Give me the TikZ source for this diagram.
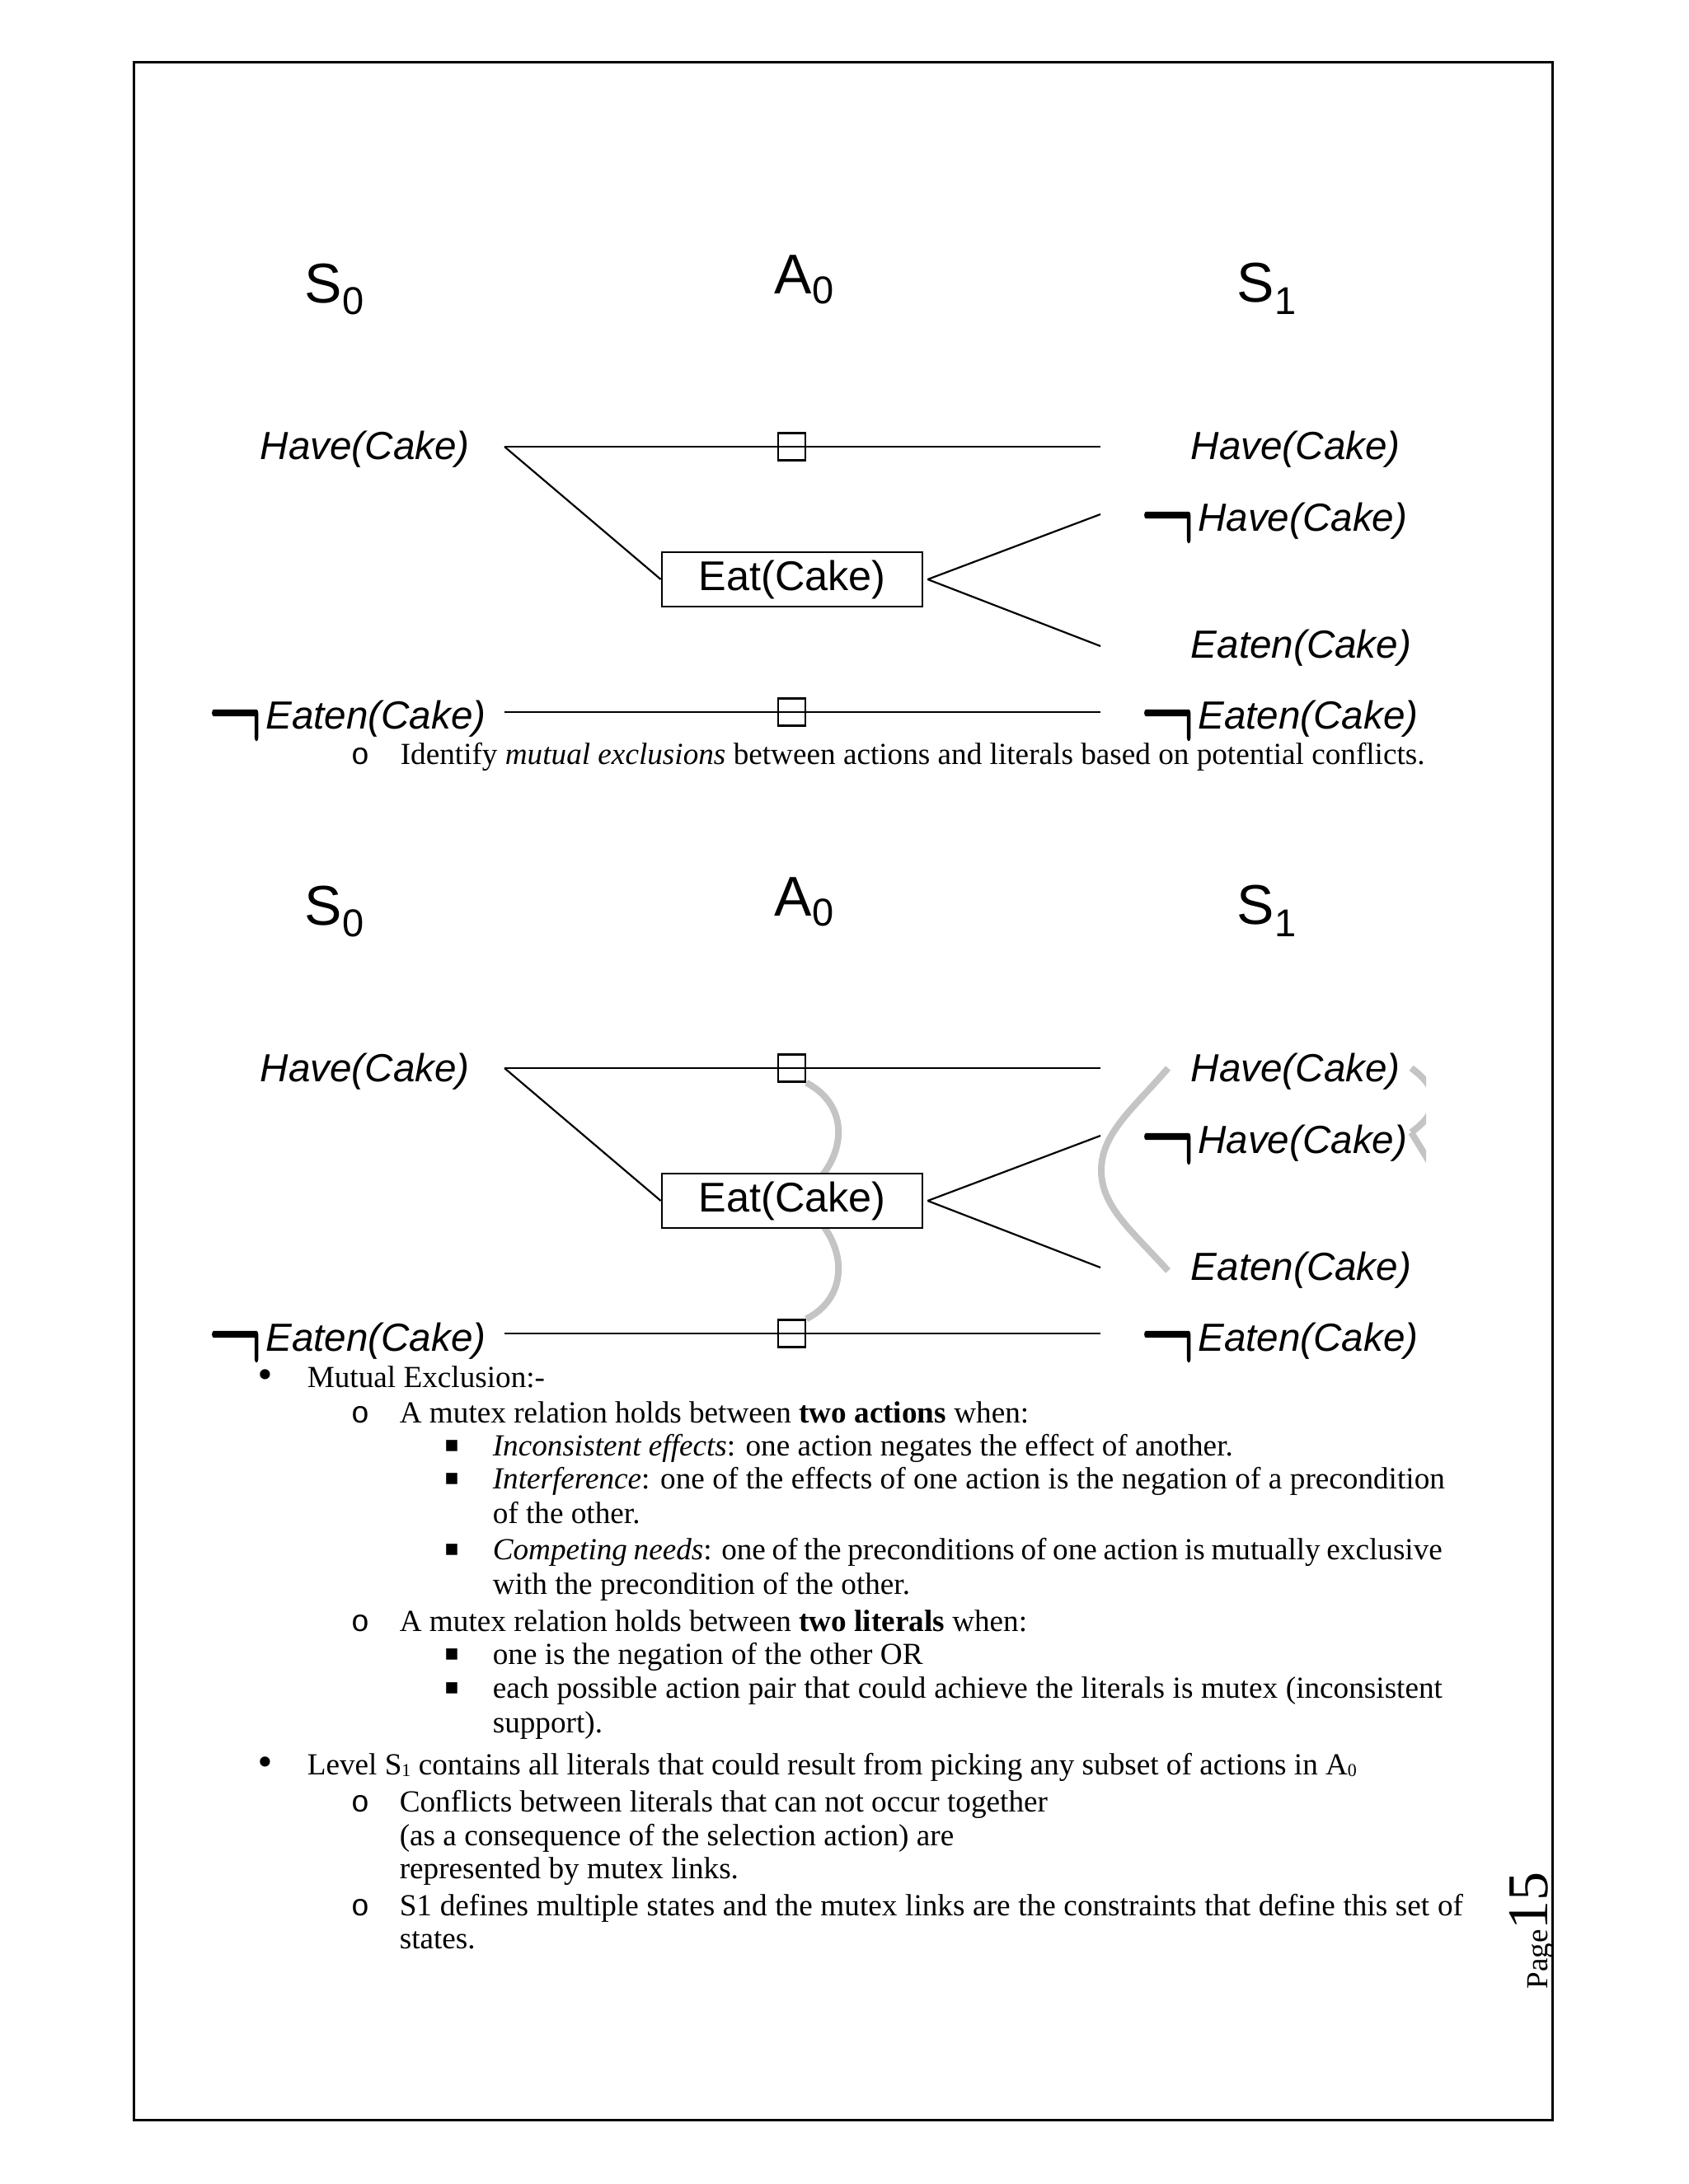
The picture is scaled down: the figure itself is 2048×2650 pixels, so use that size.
\documentclass[tikz,border=0pt]{standalone}
\usepackage{fontspec}
\setmainfont{Liberation Serif}
\newfontfamily\arialf{Liberation Sans}
\newfontfamily\monof{Liberation Mono}
\newfontfamily\dejaf{DejaVu Sans}
\newfontfamily\lmf{Latin Modern Roman}[FakeBold=1.5]
\pgfdeclarelayer{bg}
\pgfsetlayers{bg,main}
\definecolor{mutexgrey}{RGB}{196,196,196}
\newcommand\subf{\fontsize{11.75pt}{14pt}\selectfont}
\newcommand\negs{{\upshape\lmf\fontsize{21pt}{21pt}\selectfont\smash{\raisebox{-9.25pt}{\scalebox{1.04}[2.0]{¬}}}}\hspace{1.4pt}}
\newcommand\plangraph[2]{%
\begin{scope}[shift={(0,#1)}]
  \node[hdr] (#2S0) at (369,368) {S\raisebox{-3.5pt}{\subf 0}};
  \node[hdr] (#2A0) at (939,357) {A\raisebox{-3pt}{\subf 0}};
  \node[hdr] (#2S1) at (1500,367) {S\raisebox{-3.75pt}{\subf 1}};
  \node[lbl] (#2hc0) at (315,558) {Have(Cake)};
  \node[lbl] (#2ne0) at (253,885) {\negs Eaten(Cake)};
  \node[lbl] (#2hc1) at (1444,558) {Have(Cake)};
  \node[lbl] (#2nh1) at (1384,645) {\negs Have(Cake)};
  \node[lbl] (#2ec1) at (1444,799) {Eaten(Cake)};
  \node[lbl] (#2ne1) at (1384,885) {\negs Eaten(Cake)};
  \coordinate (#2a) at (612,542);
  \coordinate (#2b) at (1335,542);
  \coordinate (#2c) at (612,864);
  \coordinate (#2d) at (1335,864);
  \coordinate (#2e) at (1335,624);
  \coordinate (#2f) at (1335,784);
  \draw[conn] (#2a) -- (#2b);
  \draw[conn] (#2c) -- (#2d);
  \node[noop] (#2n1) at (960.5,542) {};
  \node[noop] (#2n2) at (960.5,864) {};
  \node[act] (#2eat) at (961,703) {Eat(Cake)};
  \draw[conn] (#2a) -- (#2eat.west);
  \draw[conn] ([xshift=1.25pt]#2eat.east) -- (#2e);
  \draw[conn] ([xshift=1.25pt]#2eat.east) -- (#2f);
\end{scope}}
\tikzset{
  hdr/.style={font=\arialf\fontsize{17pt}{20pt}\selectfont, inner sep=0pt, anchor=base west},
  lbl/.style={font=\arialf\itshape\fontsize{11.9pt}{14pt}\selectfont, inner sep=0pt, anchor=base west},
  conn/.style={line width=0.55pt},
  noop/.style={draw, line width=0.6pt, minimum size=8.25pt, inner sep=0pt},
  act/.style={draw, line width=0.7pt, fill=white, minimum width=79pt, minimum height=16.5pt, inner sep=0pt, font=\arialf\fontsize{12.6pt}{14pt}\selectfont},
  mutex/.style={line width=2pt, draw=mutexgrey},
  body/.style={font=\fontsize{9.3pt}{11pt}\selectfont, inner sep=0pt, anchor=base west},
  bA/.style={inner sep=0pt, anchor=base, font=\dejaf\fontsize{10.5pt}{11pt}\selectfont},
  bB/.style={inner sep=0pt, anchor=base, font=\monof\fontsize{9.3pt}{11pt}\selectfont},
  bC/.style={inner sep=0pt, font=\dejaf\fontsize{6.8pt}{8pt}\selectfont},
  frame/.style={line width=0.75pt}
}
\begin{document}
\begin{tikzpicture}[x=0.25pt,y=-0.25pt]
\useasboundingbox (0,0) rectangle (2048,2650);
\begin{pgfonlayer}{bg}
  \fill[white] (0,0) rectangle (2048,2650);
\end{pgfonlayer}
\draw[frame] (162,76) rectangle (1883,2572);

% first graph
\plangraph{0}{p}
\node[bB] (m0) at (437,928) {o};
\node[body] (t0) at (485,928) {Identify \textit{mutual exclusions} between actions and literals based on potential conflicts.};

% second graph
\plangraph{754}{q}
\begin{pgfonlayer}{bg}
  \draw[mutex] (qn1.south east) .. controls (1028,1340) and (1028,1395) .. (990,1435);
  \draw[mutex] (990,1477) .. controls (1028,1517) and (1028,1575) .. (qn2.north east);
  \draw[mutex] (1417,1296) .. controls (1375,1345) and (1336,1375) .. (1336,1420)
                .. controls (1336,1465) and (1375,1495) .. (1417,1542);
  \begin{scope}
    \clip (0,0) rectangle (1730,2650);
    \draw[mutex] (1712,1296) .. controls (1748,1322) and (1748,1348) .. (1712,1374);
    \draw[mutex] (1712,1374) .. controls (1740,1420) and (1780,1480) .. (1790,1540);
  \end{scope}
\end{pgfonlayer}

% text block
\node[bA] (m1) at (322,1683) {•};
\node[body] (t1) at (372,1683) {Mutual Exclusion:-};
\node[bB] (m2) at (437,1726) {o};
\node[body] (t2) at (484,1726) {A mutex relation holds between \textbf{two actions} when:};
\node[bC] (m3) at (548,1755) {▪};
\node[body] (t3) at (597,1766) {\textit{Inconsistent effects}: one action negates the effect of another.};
\node[bC] (m4) at (548,1795) {▪};
\node[body] (t4) at (597,1806) {\makebox[288.75pt][s]{\textit{Interference}: one of the effects of one action is the negation of a precondition}};
\node[body] (t5) at (597,1848) {of the other.};
\node[bC] (m6) at (548,1881) {▪};
\node[body] (t6) at (597,1892) {\makebox[288pt][s]{\textit{Competing needs}: one of the preconditions of one action is mutually exclusive}};
\node[body] (t7) at (597,1934) {with the precondition of the other.};
\node[bB] (m8) at (437,1979) {o};
\node[body] (t8) at (484,1979) {A mutex relation holds between \textbf{two literals} when:};
\node[bC] (m9) at (548,2008) {▪};
\node[body] (t9) at (597,2019) {one is the negation of the other OR};
\node[bC] (m10) at (548,2049) {▪};
\node[body] (t10) at (597,2060) {\makebox[288pt][s]{each possible action pair that could achieve the literals is mutex (inconsistent}};
\node[body] (t11) at (597,2102) {support).};
\node[bA] (m12) at (322,2153) {•};
\node[body] (t12) at (372,2153) {Level S\raisebox{-0.6pt}{\fontsize{5.5pt}{6pt}\selectfont 1} contains all literals that could result from picking any subset of actions in A\raisebox{-0.6pt}{\fontsize{5.5pt}{6pt}\selectfont 0}};
\node[bB] (m13) at (437,2198) {o};
\node[body] (t13) at (484,2198) {Conflicts between literals that can not occur together};
\node[body] (t14) at (484,2239) {(as a consequence of the selection action) are};
\node[body] (t15) at (484,2279) {represented by mutex links.};
\node[bB] (m16) at (437,2324) {o};
\node[body] (t16) at (484,2324) {\makebox[322.5pt][s]{S1 defines multiple states and the mutex links are the constraints that define this set of}};
\node[body] (t17) at (484,2364) {states.};

% page number
\node[rotate=90, anchor=base west, inner sep=0pt] (pg) at (1877,2414)
  {{\fontsize{9.25pt}{10pt}\selectfont Page}{\fontsize{17.5pt}{18pt}\selectfont 15}};
\end{tikzpicture}
\end{document}
